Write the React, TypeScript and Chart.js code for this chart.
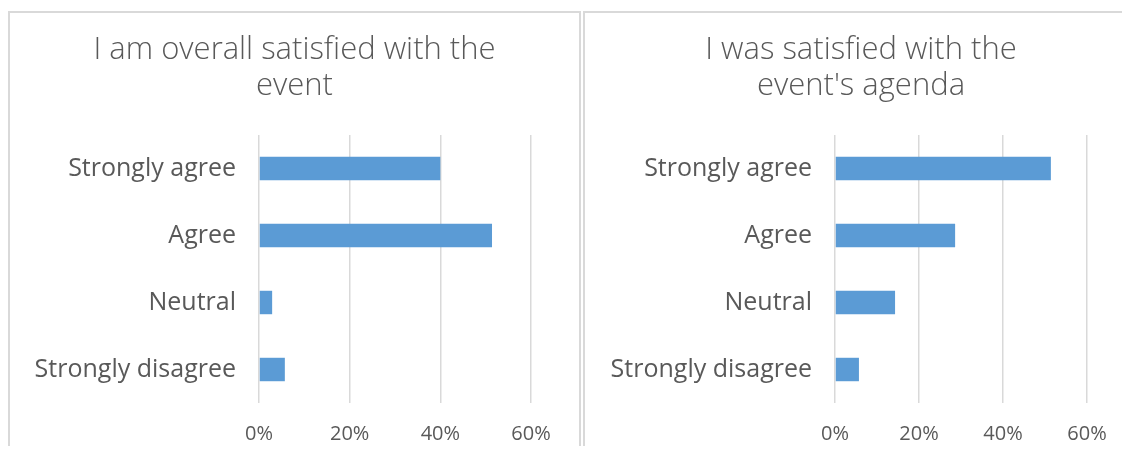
import React, { useEffect, useRef } from "react";
import { Chart, registerables } from "chart.js";

Chart.register(...registerables);

const categories = ["Strongly agree", "Agree", "Neutral", "Strongly disagree"];
const overallValues = [40.0, 51.4, 2.9, 5.7];
const agendaValues = [51.4, 28.6, 14.3, 5.7];
const xTickValues = [0, 20, 40, 60];
const overallTitle = ["I am overall satisfied with the", "event"];
const agendaTitle = ["I was satisfied with the", "event's agenda"];

const TEXT = "#595959";
const GRID = "#d9d9d9";
const BAR = "#5b9bd5";

type PanelProps = {
  title: string[];
  values: number[];
  left: number;
  width: number;
  plotLeft: number;
  padRight: number;
};

function Panel({ title, values, left, width, plotLeft, padRight }: PanelProps) {
  const ref = useRef<HTMLCanvasElement>(null);
  const cw = width - 4;
  const ch = 452;
  useEffect(() => {
    const chart = new Chart(ref.current!, {
      type: "bar",
      data: {
        labels: categories,
        datasets: [
          {
            data: values,
            backgroundColor: BAR,
            borderWidth: 0,
            barPercentage: 0.35,
            categoryPercentage: 1,
          },
        ],
      },
      options: {
        indexAxis: "y",
        responsive: false,
        animation: false,
        devicePixelRatio: 1,
        layout: { padding: 0 },
        plugins: {
          legend: { display: false },
          tooltip: { enabled: false },
          title: {
            display: true,
            text: title,
            color: TEXT,
            font: { family: "'Open Sans', sans-serif", size: 31, weight: "300" as any, lineHeight: 36 / 31 },
            padding: { top: 19, bottom: 31 },
          },
        },
        scales: {
          x: {
            min: xTickValues[0],
            max: xTickValues[xTickValues.length - 1],
            afterBuildTicks: (scale: any) => {
              scale.ticks = xTickValues.map((v) => ({ value: v }));
            },
            ticks: {
              color: TEXT,
              padding: 19,
              font: { family: "'Open Sans', sans-serif", size: 20 },
              callback: (v: any) => v + "%",
            },
            grid: { color: GRID, lineWidth: 1.5, drawTicks: false },
            border: { display: false },
          },
          y: {
            afterFit: (scale: any) => {
              scale.width = plotLeft;
            },
            ticks: {
              color: TEXT,
              padding: 23,
              font: { family: "'Open Sans', sans-serif", size: 25 },
            },
            grid: { display: false, drawTicks: false },
            border: { display: false },
          },
          spacer: {
            type: "linear",
            axis: "y",
            position: "right",
            afterFit: (scale: any) => {
              scale.width = padRight;
            },
            ticks: { display: false },
            grid: { display: false, drawTicks: false },
            border: { display: false },
          },
        },
      },
    });
    return () => chart.destroy();
  }, []);
  return (
    <div
      style={{
        position: "absolute",
        left,
        top: 3,
        width,
        height: 460,
        border: `2px solid ${GRID}`,
        boxSizing: "border-box",
        background: "#fff",
        overflow: "hidden",
      }}
    >
      <canvas ref={ref} width={cw} height={ch} style={{ display: "block", width: cw, height: ch }} />
    </div>
  );
}

export default function App() {
  return (
    <div
      style={{
        position: "relative",
        width: 1122,
        height: 446,
        marginBottom: -8,
        overflow: "hidden",
        background: "#fff",
      }}
    >
      <Panel title={overallTitle} values={overallValues} left={0} width={573} plotLeft={249} padRight={48} />
      <Panel title={agendaTitle} values={agendaValues} left={575} width={556} plotLeft={250} padRight={50} />
    </div>
  );
}
